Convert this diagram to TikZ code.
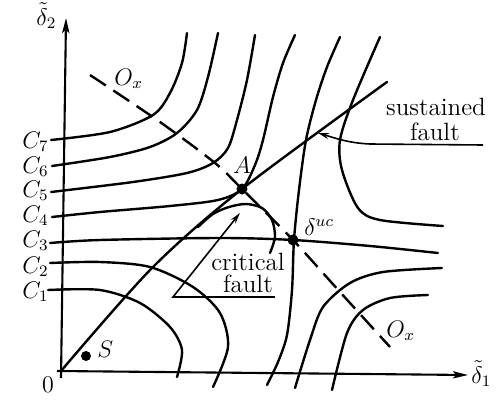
\documentclass[tikz,border=0pt]{standalone}
\usepackage{fontspec}
\usetikzlibrary{arrows.meta}
\begin{document}
\begin{tikzpicture}[x=0.5pt,y=-0.5pt,
  curve/.style={line width=1.2pt, line cap=round, line join=round},
  axis/.style={line width=1.05pt, -{Stealth[length=7.5pt,width=3.6pt,inset=1.5pt]}},
  txt/.style={font=\fontsize{12.5}{15}\selectfont, inner sep=0pt},
  mlab/.style={font=\fontsize{12}{14}\selectfont, inner sep=0pt},
  dot/.style={circle, fill=black, inner sep=0pt, minimum size=5.5pt},
  ptr/.style={line width=0.8pt, -{Stealth[length=5.5pt,width=3pt]}},
  odash/.style={line width=1.2pt, dash pattern=on 9.5pt off 4.5pt}]
\useasboundingbox (0,0) rectangle (500,402);

% axes
\coordinate (ybot) at (61,378);
\coordinate (ytop) at (66,18);
\coordinate (xl) at (57,371);
\coordinate (xr) at (468,375);
\draw[axis] (ybot) -- (ytop);
\draw[axis] (xl) -- (xr);

% upper-left family
\draw[curve] plot[smooth] coordinates {(51,140) (110,132) (153,115) (170,93) (182,63) (187,33)};
\draw[curve] plot[smooth] coordinates {(52,166) (110,157) (150,147) (177,133) (197,110) (208,77) (218,33)};
\draw[curve] plot[smooth] coordinates {(51,192) (133,182) (187,173) (213,163) (228,148) (237,120) (247,80) (255,35)};
\draw[curve] plot[smooth] coordinates {(52,217) (100,212) (170,206) (218,200) (242,189) (255,165) (263,140) (273,97) (283,63) (295,35)};

% separatrix level C3
\draw[curve] plot[smooth] coordinates {(50,243) (100,240) (220,238) (293,240) (370,246) (438,253)};
\draw[curve] plot[smooth] coordinates {(340,37) (327,67) (316,100) (306,140) (299,190) (294,240) (292,290) (287,335) (278,362) (267,385)};

% right families
\draw[curve] plot[smooth] coordinates {(380,37) (353,100) (340,140) (342,170) (358,208) (380,220) (443,226)};
\draw[curve] plot[smooth] coordinates {(442,268) (383,272) (350,283) (323,307) (310,340) (295,388)};
\draw[curve] plot[smooth] coordinates {(428,295) (390,298) (363,310) (347,333) (332,390)};

% lower-left closed levels
\draw[curve] plot[smooth] coordinates {(50,263) (100,262) (150,267) (193,287) (220,313) (228,347) (213,387)};
\draw[curve] plot[smooth] coordinates {(48,290) (100,290) (140,303) (170,327) (182,350) (177,377)};

% trajectories
\draw[curve] plot[smooth] coordinates {(61,371) (152,268) (242,189) (387,82)};
\draw[curve] plot[smooth] coordinates {(198,227) (213,214) (229,207) (246,204) (262,208) (272,220) (275,237) (270,253)};

% stable manifold (dashed)
\draw[odash] plot[smooth] coordinates {(90,75) (160,122) (215,163) (242,189) (293,240) (340,292) (390,347)};

% points
\node[dot] (A) at (242,189) {};
\node[dot] (duc) at (293,240) {};
\node[dot, minimum size=5pt] (S) at (86,356) {};

% labels
\node[mlab, anchor=base west] (d2) at (36,25) {$\tilde{\delta}_2$};
\node[mlab, anchor=base west] (d1) at (471,383) {$\tilde{\delta}_1$};
\node[mlab, anchor=base] (zero) at (48,393) {0};
\node[mlab, anchor=base east] (c7) at (49,148) {$C_7$};
\node[mlab, anchor=base east] (c6) at (49,173) {$C_6$};
\node[mlab, anchor=base east] (c5) at (49,197) {$C_5$};
\node[mlab, anchor=base east] (c4) at (49,222) {$C_4$};
\node[mlab, anchor=base east] (c3) at (49,247) {$C_3$};
\node[mlab, anchor=base east] (c2) at (49,273) {$C_2$};
\node[mlab, anchor=base east] (c1) at (49,298) {$C_1$};
\node[mlab, anchor=base] (Alab) at (242,173) {$A$};
\node[mlab, anchor=base west] (duclab) at (304,235) {$\delta^{uc}$};
\node[mlab, anchor=base west] (Slab) at (97,357) {$S$};
\node[mlab, anchor=base west] (ox1) at (114,85) {$O_x$};
\node[mlab, anchor=base west] (ox2) at (386,337) {$O_x$};

% sustained fault
\node[txt, anchor=base] (sus1) at (436,115) {sustained};
\node[txt, anchor=base] (sus2) at (435,140) {fault};
\coordinate (sue) at (483,145);
\coordinate (sut) at (318,133);
\draw[ptr] (sue) -- (370,144) .. controls (348,143) and (335,138) .. (sut);

% critical fault
\node[txt, anchor=base] (cr1) at (248,270) {critical};
\node[txt, anchor=base] (cr2) at (248,292) {fault};
\coordinate (cre) at (275,297);
\coordinate (crt) at (240,213);
\draw[ptr] (cre) -- (173,297) -- (crt);
\end{tikzpicture}
\end{document}
